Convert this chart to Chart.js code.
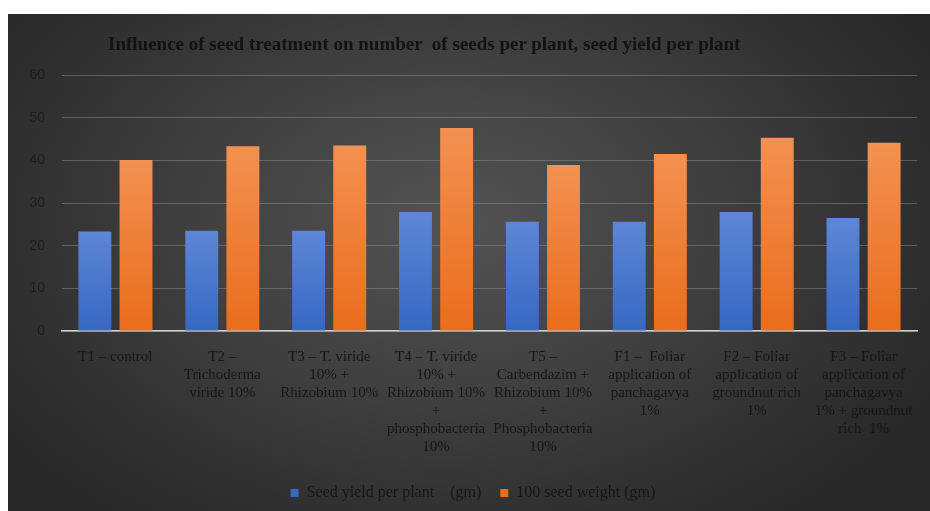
<!DOCTYPE html>
<html>
<head>
<meta charset="utf-8">
<script src="https://cdn.jsdelivr.net/npm/chart.js@4.4.1/dist/chart.umd.min.js"></script>
<style>
  html, body { margin: 0; padding: 0; background: #fff; }
  #wrap {
    position: absolute; left: 8px; top: 14px; width: 922px; height: 497px;
    background: radial-gradient(ellipse 60% 75% at 48% 42%, #535353 0%, #3e3e3e 50%, #272727 100%);
  }
  #title {
    position: absolute; left: 100px; top: 19px;
    font: bold 19px "Liberation Serif", "Times New Roman", serif;
    color: #121212; white-space: pre;
  }
  #kpi { position: absolute; left: 0; top: 0; }
</style>
</head>
<body>
<div id="wrap">
  <canvas id="kpi" width="922" height="497"></canvas>
  <div id="title">Influence of seed treatment on number  of seeds per plant, seed yield per plant</div>
</div>
<script>
const categories = [
  ['T1 – control'],
  ['T2 –', 'Trichoderma', 'viride 10%'],
  ['T3 – T. viride', '10% +', 'Rhizobium 10%'],
  ['T4 – T. viride', '10% +', 'Rhizobium 10%', '+', 'phosphobacteria', '10%'],
  ['T5 –', 'Carbendazim +', 'Rhizobium 10%', '+', 'Phosphobacteria', '10%'],
  ['F1 –  Foliar', 'application of', 'panchagavya', '1%'],
  ['F2 – Foliar', 'application of', 'groundnut rich', '1%'],
  ['F3 – Foliar', 'application of', 'panchagavya', '1% + groundnut', 'rich  1%']
];
const seedYield = [23.3, 23.5, 23.5, 27.9, 25.6, 25.6, 27.9, 26.5];
const seedWeight = [40.1, 43.3, 43.5, 47.6, 38.9, 41.5, 45.3, 44.1];
const yTicks = [0, 10, 20, 30, 40, 50, 60];

// vertical gradient per bar, lighter at the top
function barFill(top, bottom) {
  return function (c) {
    const chart = c.chart;
    const area = chart.chartArea;
    if (!area || c.raw == null) return bottom;
    const y = chart.scales.y.getPixelForValue(c.raw);
    const g = chart.ctx.createLinearGradient(0, y, 0, area.bottom);
    g.addColorStop(0, top);
    g.addColorStop(1, bottom);
    return g;
  };
}

const serif = '"Liberation Serif", "Times New Roman", serif';

new Chart(document.getElementById('kpi'), {
  type: 'bar',
  data: {
    labels: categories,
    datasets: [
      {label: 'Seed yield per plant    (gm)', data: seedYield,
       backgroundColor: barFill('#5d87d6', '#3767c2'), categoryPercentage: 0.77, barPercentage: 0.8},
      {label: '100 seed weight (gm)', data: seedWeight,
       backgroundColor: barFill('#f39152', '#e96d1c'), categoryPercentage: 0.77, barPercentage: 0.8}
    ]
  },
  options: {
    responsive: false,
    animation: false,
    layout: { padding: { left: 21, right: 13, top: 61, bottom: 0 } },
    plugins: {
      title: { display: false },
      tooltip: { enabled: false },
      legend: {
        position: 'bottom',
        labels: {
          boxWidth: 8, boxHeight: 8, padding: 19,
          color: '#161616',
          font: { family: serif, size: 16 }
        }
      }
    },
    scales: {
      x: {
        grid: { display: false },
        border: { color: '#cfcfcf', width: 1.5 },
        afterFit: s => { s.height += 1; },
        ticks: {
          color: '#161616', maxRotation: 0, autoSkip: false, padding: 9,
          font: { family: serif, size: 15, lineHeight: 1.2 }
        }
      },
      y: {
        min: 0, max: 60,
        afterBuildTicks: s => { s.ticks = yTicks.map(v => ({value: v})); },
        afterFit: s => { s.width = 33; },
        grid: { color: 'rgba(150,150,150,0.45)', drawTicks: false },
        border: { display: false },
        ticks: {
          color: '#1e1e1e', padding: 17,
          font: { family: '"Liberation Sans", Arial, sans-serif', size: 14 }
        }
      }
    }
  }
});
</script>
</body>
</html>
